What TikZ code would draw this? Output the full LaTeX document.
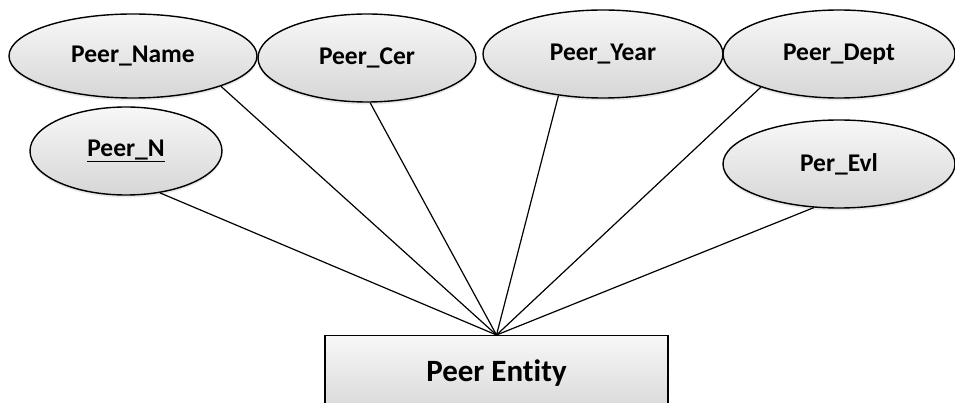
\documentclass[tikz,border=0pt]{standalone}
\usepackage{fontspec}
\setmainfont{Carlito}[Ligatures=NoCommon]
\usetikzlibrary{shapes.geometric,shadows}
\begin{document}
\begin{tikzpicture}[x=1pt,y=-1pt,
  attr/.style={ellipse, draw=black, line width=1.4pt, inner sep=0pt,
    top color=gray!6, bottom color=gray!32,
    drop shadow={opacity=0.18, shadow xshift=0pt, shadow yshift=-2.5pt},
    font=\fontsize{25.5}{29}\selectfont\bfseries},
  entity/.style={rectangle, draw=black, line width=1.4pt, inner sep=0pt,
    top color=gray!6, bottom color=gray!30,
    font=\fontsize{31}{35}\selectfont\bfseries},
  link/.style={draw=black, line width=1.2pt}]
\useasboundingbox (0,0) rectangle (955,403);
\begin{scope}
\clip (0,0) rectangle (955,403);
% attributes
\node[attr, minimum width=248, minimum height=84] (pname) at (133,56) {Peer\_Name};
\node[attr, minimum width=218, minimum height=88] (pcer) at (367,58) {Peer\_Cer};
\node[attr, minimum width=240, minimum height=88] (pyear) at (603,54) {Peer\_Year};
\node[attr, minimum width=232, minimum height=88] (pdept) at (839,54) {Peer\_Dept};
\node[attr, minimum width=192, minimum height=88] (pn) at (126,151) {\underline{Peer\_N}};
\node[attr, minimum width=232, minimum height=88] (pevl) at (839,164) {Per\_Evl};
% entity (its lower edge runs past the page)
\node[entity, anchor=north, minimum width=343, minimum height=74] (ent) at (496.5,335) {\raisebox{5pt}{Peer Entity}};
% connectors
\draw[link] (pname.-19) -- (ent.north);
\draw[link] (pcer.-86) -- (ent.north);
\draw[link] (pyear.223) -- (ent.north);
\draw[link] (pdept.203) -- (ent.north);
\draw[link] (pn.-51) -- (ent.north);
\draw[link] (pevl.240) -- (ent.north);
\end{scope}
\end{tikzpicture}
\end{document}
